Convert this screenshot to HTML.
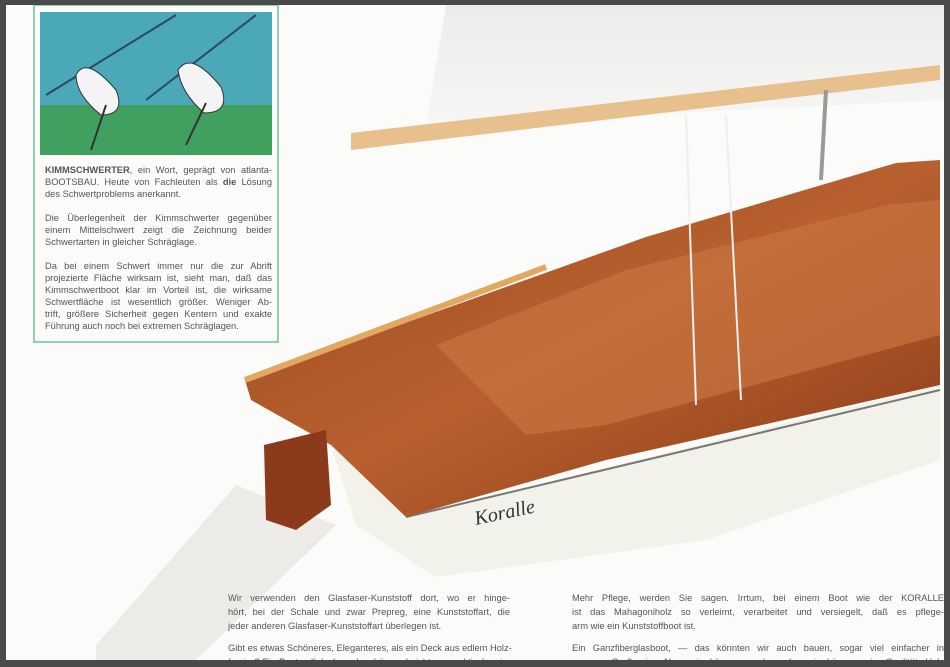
<!DOCTYPE html>
<html><head><meta charset="utf-8"><style>
body{margin:0;width:950px;height:667px;overflow:hidden;background:#4a4a4a;font-family:"Liberation Sans",sans-serif;}
#pg{position:absolute;left:6px;top:5px;width:938px;height:655px;background:#fbfbf9;overflow:hidden}
.t{position:absolute;font-size:9.3px;line-height:12px;color:#555;}
.t div{text-align:justify;text-align-last:justify;white-space:nowrap;height:12px}
.t div.l{text-align-last:left}
.b{line-height:14px}
.b div{height:14px}
</style></head><body>
<div id="pg">
<svg width="938" height="655" style="position:absolute;left:0;top:0">
<defs>
<linearGradient id="d" x1="0" y1="0" x2="1" y2="1"><stop offset="0" stop-color="#9c4a22"/><stop offset="0.5" stop-color="#b8602e"/><stop offset="1" stop-color="#8a3a18"/></linearGradient>
<linearGradient id="s" x1="0" y1="0" x2="0" y2="1"><stop offset="0" stop-color="#ececec"/><stop offset="1" stop-color="#f6f6f4"/></linearGradient>
</defs>
<rect x="28" y="0" width="244" height="337" fill="none" stroke="#8fd0b0" stroke-width="2"/>
<rect x="34" y="7" width="232" height="98" fill="#4aa8b8"/>
<rect x="34" y="100" width="232" height="50" fill="#3fa060"/>
<line x1="40" y1="90" x2="170" y2="10" stroke="#2a4a60" stroke-width="2"/>
<line x1="140" y1="95" x2="250" y2="10" stroke="#2a4a60" stroke-width="2"/>
<path d="M70 70 Q80 50 110 85 Q120 110 95 110 Q70 90 70 70Z" fill="#f4f4f4" stroke="#333"/>
<path d="M172 65 Q185 45 215 82 Q225 108 198 108 Q175 88 172 65Z" fill="#f4f4f4" stroke="#333"/>
<line x1="100" y1="100" x2="85" y2="145" stroke="#333" stroke-width="2"/>
<line x1="200" y1="98" x2="180" y2="140" stroke="#333" stroke-width="2"/>
<polygon points="440,0 938,0 938,95 420,120" fill="url(#s)"/>
<polygon points="90,640 230,480 330,520 190,655 90,655" fill="#ecebe8"/>
<polygon points="325,440 400,512 934,380 934,455 700,535 430,572 350,520" fill="#f2f1ea"/>
<line x1="400" y1="512" x2="934" y2="385" stroke="#777" stroke-width="2"/>
<polygon points="239,375 640,232 890,158 934,155 934,380 600,455 400,512 325,440 245,395" fill="url(#d)"/>
<polygon points="430,340 620,265 880,200 934,195 934,330 600,420 520,430" fill="#c8743e" opacity="0.7"/>
<line x1="239" y1="375" x2="540" y2="262" stroke="#e2a860" stroke-width="6"/>
<polygon points="258,440 320,425 325,500 290,525 260,515" fill="#8c3a1c"/>
<polygon points="345,128 934,60 934,75 345,145" fill="#e7c08e"/>
<line x1="820" y1="85" x2="815" y2="175" stroke="#999" stroke-width="4"/>
<line x1="680" y1="110" x2="690" y2="400" stroke="#eee" stroke-width="2"/>
<line x1="720" y1="110" x2="735" y2="395" stroke="#eee" stroke-width="2"/>
<text x="470" y="520" font-family="Liberation Serif" font-style="italic" font-size="20" fill="#333" transform="rotate(-12 470 520)">Koralle</text>
</svg>
<div class="t" style="left:39px;top:159px;width:227px">
<div><b>KIMMSCHWERTER</b>, ein Wort, geprägt von atlanta-</div>
<div>BOOTSBAU. Heute von Fachleuten als <b>die</b> Lösung</div>
<div class="l">des Schwertproblems anerkannt.</div>
<div></div>
<div>Die Überlegenheit der Kimmschwerter gegenüber</div>
<div>einem Mittelschwert zeigt die Zeichnung beider</div>
<div class="l">Schwertarten in gleicher Schräglage.</div>
<div></div>
<div>Da bei einem Schwert immer nur die zur Abrift</div>
<div>projezierte Fläche wirksam ist, sieht man, daß das</div>
<div>Kimmschwertboot klar im Vorteil ist, die wirksame</div>
<div>Schwertfläche ist wesentlich größer. Weniger Ab-</div>
<div>trift, größere Sicherheit gegen Kentern und exakte</div>
<div class="l">Führung auch noch bei extremen Schräglagen.</div>
</div>
<div class="t b" style="left:222px;top:586px;width:282px">
<div>Wir verwenden den Glasfaser-Kunststoff dort, wo er hinge-</div>
<div>hört, bei der Schale und zwar Prepreg, eine Kunststoffart, die</div>
<div class="l">jeder anderen Glasfaser-Kunststoffart überlegen ist.</div>
<div style="height:8px"></div>
<div>Gibt es etwas Schöneres, Eleganteres, als ein Deck aus edlem Holz-</div>
<div>furnier? Ein Boot soll doch auch schön und nicht nur praktisch sein.</div>
</div>
<div class="t b" style="left:566px;top:586px;width:372px">
<div>Mehr Pflege, werden Sie sagen. Irrtum, bei einem Boot wie der KORALLE</div>
<div>ist das Mahagoniholz so verleimt, verarbeitet und versiegelt, daß es pflege-</div>
<div class="l">arm wie ein Kunststoffboot ist.</div>
<div style="height:8px"></div>
<div>Ein Ganzfiberglasboot, — das könnten wir auch bauen, sogar viel einfacher in</div>
<div>unserer Großserie. Aber wir können noch mehr, wir können ein Qualitäts-Holz</div>
</div>
</div>
</body></html>
